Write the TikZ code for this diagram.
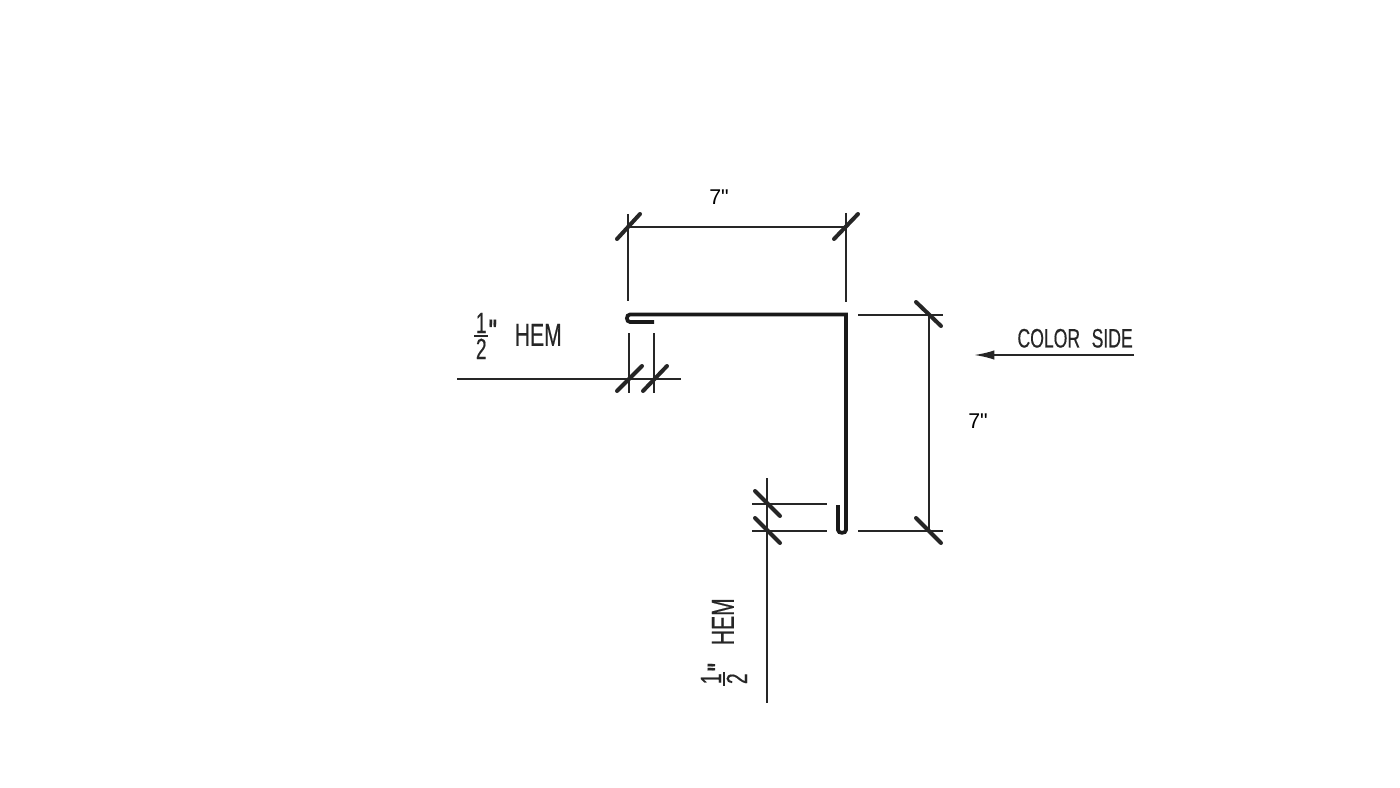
\documentclass[tikz,border=0pt]{standalone}
\usepackage{amsmath}
\usepackage{fontspec}
\newfontfamily\sizefont{Liberation Sans}
\newfontfamily\cadfont[FakeStretch=0.66,FakeBold=0.4]{Liberation Sans}
\usetikzlibrary{positioning}
\usetikzlibrary{arrows.meta}
\newcommand{\hemfrac}{{\cadfont\fontsize{22}{22}\selectfont$\vcenter{\offinterlineskip\halign{\hfil##\hfil\cr 1\cr\noalign{\kern1.2pt}\rule{10.5pt}{1.4pt}\cr\noalign{\kern1.6pt}2\cr}}$}}
\newcommand{\hemtext}{\hemfrac\raisebox{2.3pt}{\cadfont\fontsize{22}{22}\selectfont\textbf{"}}\hspace{13pt}\raisebox{-2.2pt}{\cadfont\fontsize{24}{24}\selectfont HEM}}

\begin{document}
\begin{tikzpicture}[x=0.75pt, y=-0.75pt, dim/.style = {line width=1.9pt, black!85}, tick/.style = {line width=3pt, black!85, line cap=round}, sheet/.style = {line width=2.8pt, black!90, line join=miter}, cad/.style = {inner sep=0pt, font=\cadfont\fontsize{20}{20}\selectfont, black!85}, size/.style = {inner sep=0pt, font=\sizefont\fontsize{16}{16}\selectfont}]
          \useasboundingbox (0,0) rectangle (1400,788);
          % sheet
          \coordinate (a1) at (654,322);
          \coordinate (a2) at (630,322);
          \coordinate (a3) at (630,314.5);
          \coordinate (corner) at (846,314.5);
          \coordinate (a4) at (846,530);
          \coordinate (a5) at (838,530);
          \coordinate (a6) at (838,505);
          \draw[sheet] (a1) -- (a2) to[out=180,in=180,looseness=1.4] (a3) -- (corner) -- (a4) to[out=-90,in=-90,looseness=1.2] (a5) -- (a6);
          % top size
          \coordinate (t1) at (628,227);
          \coordinate (t2) at (846,227);
          \coordinate (t1a) at (628,214);
          \coordinate (t1b) at (628,301);
          \coordinate (t2a) at (846,213);
          \coordinate (t2b) at (846,302);
          \draw[dim] (t1) -- (t2);
          \draw[dim] (t1a) -- (t1b);
          \draw[dim] (t2a) -- (t2b);
          \draw[tick] (617,239) -- (640,214);
          \draw[tick] (834,239) -- (858,214);
          \node[size] (toplabel) at (719,197) {7"};
          % right size
          \coordinate (r1) at (929,315);
          \coordinate (r2) at (929,531);
          \coordinate (r1a) at (858,315);
          \coordinate (r1b) at (943,315);
          \coordinate (r2a) at (858,531);
          \coordinate (r2b) at (943,531);
          \draw[dim] (r1) -- (r2);
          \draw[dim] (r1a) -- (r1b);
          \draw[dim] (r2a) -- (r2b);
          \draw[tick] (916,302) -- (941,326);
          \draw[tick] (916,518) -- (941,543);
          \node[size] (rightlabel) at (978,421) {7"};
          % left hem
          \coordinate (h1a) at (629,333);
          \coordinate (h1b) at (629,393);
          \coordinate (h2a) at (654,333);
          \coordinate (h2b) at (654,393);
          \coordinate (h3a) at (457,379);
          \coordinate (h3b) at (681,379);
          \draw[dim] (h1a) -- (h1b);
          \draw[dim] (h2a) -- (h2b);
          \draw[dim] (h3a) -- (h3b);
          \draw[tick] (617,391) -- (642,366);
          \draw[tick] (643,391) -- (667,366);
          \node[cad, anchor=west] (lefthem) at (474,336) {\hemtext};
          % lower hem
          \coordinate (v1a) at (767,478);
          \coordinate (v1b) at (767,703);
          \coordinate (v2a) at (752,504);
          \coordinate (v2b) at (827,504);
          \coordinate (v3a) at (752,531);
          \coordinate (v3b) at (827,531);
          \draw[dim] (v1a) -- (v1b);
          \draw[dim] (v2a) -- (v2b);
          \draw[dim] (v3a) -- (v3b);
          \draw[tick] (755,491) -- (780,516);
          \draw[tick] (755,518) -- (780,543);
          \node[cad, anchor=west, rotate=90] (lowerhem) at (724,686) {\hemtext};
          % colour side
          \coordinate (c1) at (1134,355);
          \coordinate (c2) at (973,355);
          \draw[dim, -{Latex[length=16pt,width=7pt]}] (c1) -- (c2);
          \node[cad, anchor=south east] (colorside) at (1133,348) {COLOR\hspace{5pt} SIDE};
        \end{tikzpicture}
\end{document}
